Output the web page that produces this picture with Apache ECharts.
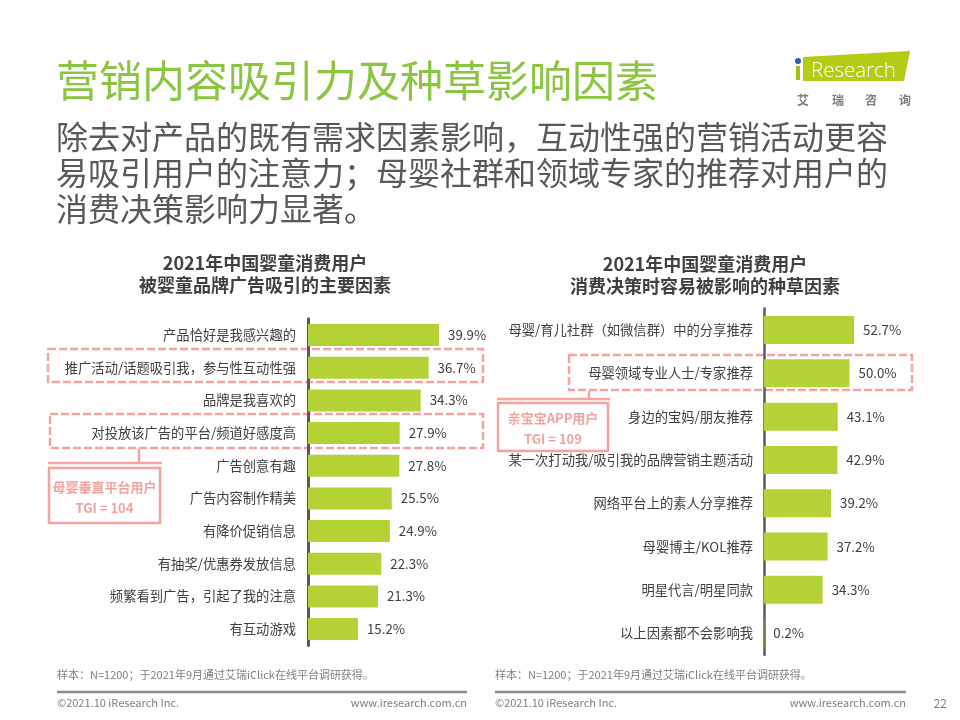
<!DOCTYPE html>
<html><head><meta charset="utf-8">
<script src="https://cdn.jsdelivr.net/npm/echarts@6/dist/echarts.min.js"></script>
<style>html,body{margin:0;padding:0;background:#fff}#c{width:960px;height:720px}</style>
</head><body><div id="c"></div>
<script>
const leftCategories = ['产品恰好是我感兴趣的','推广活动/话题吸引我，参与性互动性强','品牌是我喜欢的','对投放该广告的平台/频道好感度高','广告创意有趣','广告内容制作精美','有降价促销信息','有抽奖/优惠券发放信息','频繁看到广告，引起了我的注意','有互动游戏'];
const leftValues = [39.9,36.7,34.3,27.9,27.8,25.5,24.9,22.3,21.3,15.2];
const rightCategories = ['母婴/育儿社群（如微信群）中的分享推荐','母婴领域专业人士/专家推荐','身边的宝妈/朋友推荐','某一次打动我/吸引我的品牌营销主题活动','网络平台上的素人分享推荐','母婴博主/KOL推荐','明星代言/明星同款','以上因素都不会影响我'];
const rightValues = [52.7,50.0,43.1,42.9,39.2,37.2,34.3,0.2];
const leftTitle = ['2021年中国婴童消费用户','被婴童品牌广告吸引的主要因素'];
const rightTitle = ['2021年中国婴童消费用户','消费决策时容易被影响的种草因素'];
const mainTitle = '营销内容吸引力及种草影响因素';
const subLines = ['除去对产品的既有需求因素影响，互动性强的营销活动更容','易吸引用户的注意力；母婴社群和领域专家的推荐对用户的','消费决策影响力显著。'];
const leftTGI = ['母婴垂直平台用户','TGI = 104'];
const rightTGI = ['亲宝宝APP用户','TGI = 109'];
const note = '样本：N=1200；于2021年9月通过艾瑞iClick在线平台调研获得。';

const FONT = '"Noto Sans CJK SC","Noto Sans",sans-serif';
const BAR = '#B3D236';
const PINK = '#F4A3A3';
const TXT = '#404040';

const chart = echarts.init(document.getElementById('c'), null, {renderer:'canvas'});

function catAxis(idx, cats, margin){
  return {type:'category', gridIndex:idx, data:cats, inverse:true,
    axisLine:{show:true, lineStyle:{color:'#595959', width:idx===0?3:2.5}},
    axisTick:{show:false}, axisLabel:{color:TXT, fontSize:13.3, fontFamily:FONT, margin:margin}};
}
function valAxis(idx, max){
  return {type:'value', gridIndex:idx, min:0, max:max, show:false, splitLine:{show:false}};
}
function barSeries(idx, vals, w){
  return {type:'bar', xAxisIndex:idx, yAxisIndex:idx, data:vals, barWidth:w,
    itemStyle:{color:BAR}, silent:true, animation:false,
    label:{show:true, position:'right', distance:9, color:TXT, fontSize:13.3, fontFamily:FONT,
      formatter:p=>p.value.toFixed(1)+'%'}};
}
function txt(x,y,text,opt){
  return {type:'text', x:x, y:y, silent:true, style:Object.assign({text:text, fill:TXT, font:'13px '+FONT, textAlign:'left', textVerticalAlign:'middle'}, opt||{})};
}
function dashRect(x,y,w,h){
  return {type:'rect', shape:{x:x,y:y,width:w,height:h}, silent:true,
    style:{fill:'none', stroke:PINK, lineWidth:2.5, lineDash:[8,3]}};
}
function line(x1,y1,x2,y2,color,w){
  return {type:'line', shape:{x1:x1,y1:y1,x2:x2,y2:y2}, silent:true, style:{stroke:color, lineWidth:w}};
}
function solidRect(x,y,w,h){
  return {type:'rect', shape:{x:x,y:y,width:w,height:h}, silent:true, style:{fill:'#fff', stroke:PINK, lineWidth:2.5}};
}

const graphics = [
  txt(56, 81, mainTitle, {fill:'#8CC540', font:'43px '+FONT}),
  txt(56, 137, subLines[0], {fill:'#595959', font:'32px '+FONT}),
  txt(56, 173, subLines[1], {fill:'#595959', font:'32px '+FONT}),
  txt(56, 209, subLines[2], {fill:'#595959', font:'32px '+FONT}),
  // logo
  {type:'polygon', shape:{points:[[803,57],[910,51],[904,81],[803,81]]}, silent:true, style:{fill:'#B5CC14'}},
  {type:'circle', shape:{cx:798,cy:61,r:3}, silent:true, style:{fill:'#2F5DA8'}},
  {type:'rect', shape:{x:796,y:66,width:4,height:14}, silent:true, style:{fill:'#A9BE14'}},
  txt(811, 71, 'Research', {fill:'#ffffff', font:'300 20.5px "Open Sans",sans-serif'}),
  txt(797, 100, '艾', {fill:'#7f7f7f', font:'bold 12px '+FONT}),
  txt(832, 100, '瑞', {fill:'#7f7f7f', font:'bold 12px '+FONT}),
  txt(865, 100, '咨', {fill:'#7f7f7f', font:'bold 12px '+FONT}),
  txt(899, 100, '询', {fill:'#7f7f7f', font:'bold 12px '+FONT}),
  // chart titles
  txt(265, 263, leftTitle[0], {font:'bold 18px '+FONT, textAlign:'center'}),
  txt(265, 285, leftTitle[1], {font:'bold 18px '+FONT, textAlign:'center'}),
  txt(705, 264, rightTitle[0], {font:'bold 18px '+FONT, textAlign:'center'}),
  txt(705, 286, rightTitle[1], {font:'bold 18px '+FONT, textAlign:'center'}),
  // left highlight boxes
  dashRect(48, 349, 435, 33),
  dashRect(50, 414, 433, 34),
  line(139, 449, 139, 463, PINK, 2.5),
  line(48, 463, 162, 463, PINK, 2.5),
  solidRect(49, 468, 111, 55),
  txt(104.5, 487, leftTGI[0], {fill:PINK, font:'bold 13px '+FONT, textAlign:'center'}),
  txt(104.5, 508, leftTGI[1], {fill:PINK, font:'bold 13px '+FONT, textAlign:'center'}),
  // right highlight boxes
  dashRect(569, 355, 343, 35),
  line(589, 391, 589, 399, PINK, 2.5),
  line(497, 399, 610, 399, PINK, 2.5),
  solidRect(498, 403, 110, 48),
  txt(553, 418, rightTGI[0], {fill:PINK, font:'bold 13px '+FONT, textAlign:'center'}),
  txt(553, 439, rightTGI[1], {fill:PINK, font:'bold 13px '+FONT, textAlign:'center'}),
  // footers
  txt(57, 675, note, {fill:'#7f7f7f', font:'11px '+FONT}),
  txt(495, 675, note, {fill:'#7f7f7f', font:'11px '+FONT}),
  line(57, 692, 467, 692, '#8c8c8c', 2.5),
  line(495, 692, 906, 692, '#8c8c8c', 2.5),
  txt(57, 703, '©2021.10 iResearch Inc.', {fill:'#7f7f7f', font:'11px '+FONT}),
  txt(467, 703, 'www.iresearch.com.cn', {fill:'#7f7f7f', font:'11px '+FONT, textAlign:'right'}),
  txt(495, 703, '©2021.10 iResearch Inc.', {fill:'#7f7f7f', font:'11px '+FONT}),
  txt(906, 703, 'www.iresearch.com.cn', {fill:'#7f7f7f', font:'11px '+FONT, textAlign:'right'}),
  txt(947, 703, '22', {fill:'#7f7f7f', font:'12px '+FONT, textAlign:'right'})
];

chart.setOption({
  animation:false,
  backgroundColor:'#fff',
  grid:[
    {left:308, top:318.7, width:164.3, height:326.7, containLabel:false},
    {left:764, top:308.4, width:102.6, height:346.4, containLabel:false}
  ],
  xAxis:[valAxis(0,50), valAxis(1,60)],
  yAxis:[catAxis(0,leftCategories,12), catAxis(1,rightCategories,11)],
  series:[barSeries(0,leftValues,22), barSeries(1,rightValues,28)],
  graphic:{elements:graphics}
});
</script></body></html>
